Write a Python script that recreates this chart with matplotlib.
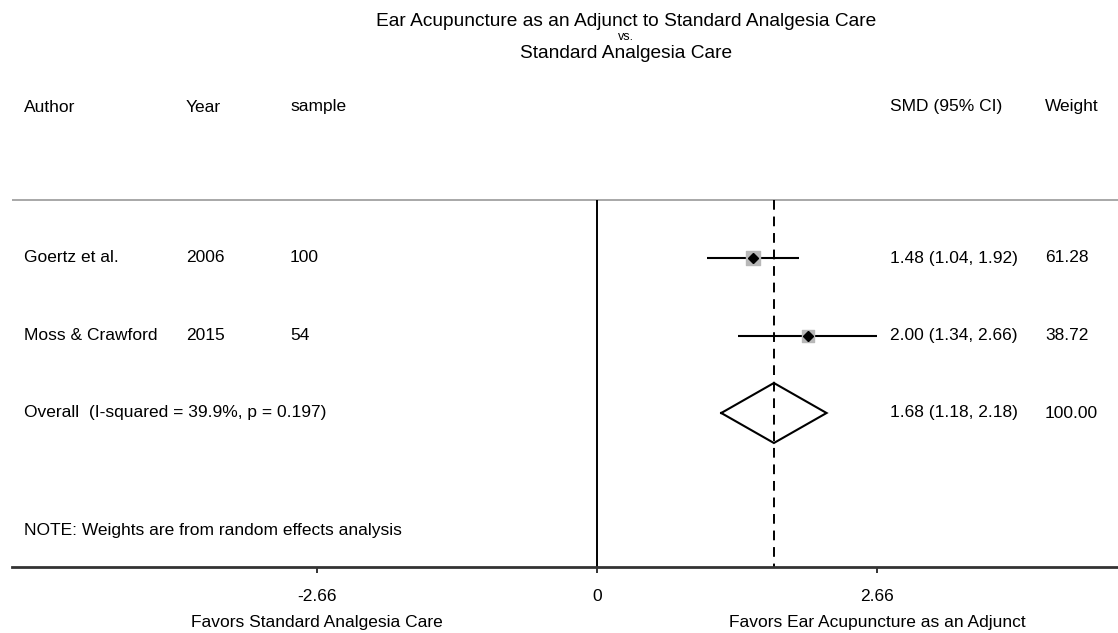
import matplotlib
matplotlib.use("Agg")
import matplotlib.pyplot as plt
from matplotlib import transforms
import numpy as np

plt.rcParams['font.family'] = ['Liberation Sans', 'DejaVu Sans']

# study data
authors = ["Goertz et al.", "Moss & Crawford"]
years = [2006, 2015]
samples = [100, 54]
smd = [1.48, 2.00]
ci_lo = [1.04, 1.34]
ci_hi = [1.92, 2.66]
weights = [61.28, 38.72]

# pooled estimate
overall_smd = 1.68
overall_lo = 1.18
overall_hi = 2.18
i_squared = 39.9
p_het = 0.197

tick_vals = [-2.66, 0, 2.66]
tick_labels = ["-2.66", "0", "2.66"]

W, H = 1118, 633
FS = 12.5

fig = plt.figure(figsize=(W / 100, H / 100), dpi=100)
# axes: left edge at px 12, bottom spine at px 567
ax = fig.add_axes([12 / W, 1 - 567 / H, 1 - 12 / W, 567 / H])

# x scale: 0 at px 597, 105.3 px per unit
x0_px, ppu = 597.0, 105.3
ax.set_xlim((12 - x0_px) / ppu, (W - x0_px) / ppu)
# y in row units: row 0 at px 258, 77.5 px per row
y0_px, ppr = 258.0, 77.5
ax.set_ylim((567 - y0_px) / ppr, (0 - y0_px) / ppr)

def row(px):
    return (px - y0_px) / ppr

top_row = row(200)
bottom_row = ax.get_ylim()[0]

# separator line under header
ax.axhline(top_row, color='#9a9a9a', lw=1.2)
# null line and overall line
ax.vlines(0, top_row, bottom_row, color='black', lw=1.4)
ax.vlines(overall_smd, top_row, bottom_row, color='black', lw=1.4,
          linestyles=(0, (5, 3.5)))

rows = np.arange(len(authors))
for i in rows:
    ax.hlines(i, ci_lo[i], ci_hi[i], color='black', lw=1.5)
    ax.scatter(smd[i], i, marker='s', s=100 * weights[i] / weights[0],
               color='#b8b8b8', zorder=3)
    ax.plot(smd[i], i, marker='D', ms=5, color='black', zorder=4)

ov_row = len(authors)
dh = 30 / ppr
ax.plot([overall_lo, overall_smd, overall_hi, overall_smd, overall_lo],
        [ov_row, ov_row - dh, ov_row, ov_row + dh, ov_row],
        color='black', lw=1.5, solid_joinstyle='miter')

# axis styling
for s in ['top', 'right', 'left']:
    ax.spines[s].set_visible(False)
ax.spines['bottom'].set_color('#333333')
ax.spines['bottom'].set_linewidth(2.0)
ax.set_yticks([])
ax.set_xticks(tick_vals)
ax.set_xticklabels(tick_labels, fontsize=FS)
ax.tick_params(axis='x', length=4, width=1.4, color='#333333', pad=12)

# text columns: x in figure px, y in rows
tr = transforms.blended_transform_factory(fig.transFigure, ax.transData)

def col(px, y, s, **kw):
    fig.text(px / W, y, s, transform=tr, fontsize=FS, va='center', **kw)

hdr = row(107)
col(24, hdr, "Author")
col(186, hdr, "Year")
col(290, hdr, "sample")
col(890, hdr, "SMD (95% CI)")
col(1045, hdr, "Weight")

for i in rows:
    col(24, i, authors[i])
    col(186, i, str(years[i]))
    col(290, i, str(samples[i]))
    col(890, i, f"{smd[i]:.2f} ({ci_lo[i]:.2f}, {ci_hi[i]:.2f})")
    col(1045, i, f"{weights[i]:.2f}")

col(24, ov_row, f"Overall  (I-squared = {i_squared}%, p = {p_het:.3f})")
col(890, ov_row, f"{overall_smd:.2f} ({overall_lo:.2f}, {overall_hi:.2f})")
col(1045, ov_row, f"{sum(weights):.2f}")

col(24, row(530), "NOTE: Weights are from random effects analysis")

# favours labels under the outer ticks
trb = transforms.blended_transform_factory(ax.transData, fig.transFigure)
ax.text(tick_vals[0], 1 - 622 / H, "Favors Standard Analgesia Care",
        transform=trb, ha='center', va='center', fontsize=FS)
ax.text(tick_vals[2], 1 - 622 / H, "Favors Ear Acupuncture as an Adjunct",
        transform=trb, ha='center', va='center', fontsize=FS)

# title (three stacked lines, small "vs.")
title_lines = ["Ear Acupuncture as an Adjunct to Standard Analgesia Care",
               "vs.", "Standard Analgesia Care"]
title_base = [26, 40, 58]
title_size = [13.8, 9, 13.8]
for line, ypx, sz in zip(title_lines, title_base, title_size):
    fig.text(626 / W, 1 - ypx / H, line, ha='center', va='baseline', fontsize=sz)

fig.savefig("out.png", dpi=100)
